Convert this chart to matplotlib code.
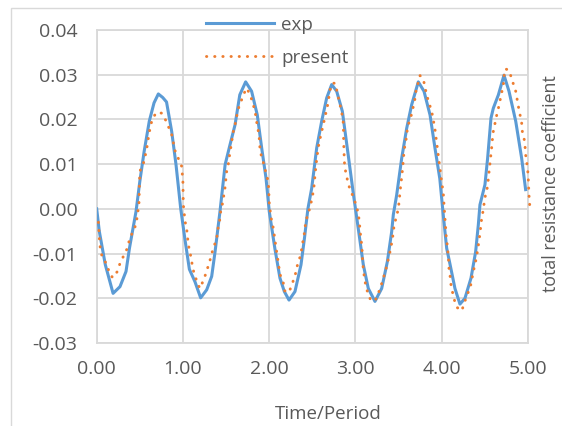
import matplotlib
matplotlib.use("Agg")
import matplotlib.pyplot as plt
from matplotlib.patches import Rectangle

plt.rcParams['font.family'] = ['Open Sans', 'DejaVu Sans']

# ---- data ----
exp_t = [0.0, 0.03, 0.10, 0.19, 0.27, 0.34, 0.38, 0.456, 0.50, 0.55, 0.61, 0.665, 0.715, 0.766, 0.81, 0.87,
         0.92, 0.975, 1.025, 1.075, 1.14, 1.206, 1.276, 1.334, 1.373, 1.43, 1.49, 1.546, 1.605, 1.66, 1.728,
         1.797, 1.863, 1.914, 1.964, 2.002, 2.068, 2.126, 2.177, 2.231, 2.30, 2.37, 2.41, 2.45, 2.494, 2.552,
         2.61, 2.668, 2.726, 2.784, 2.85, 2.92, 2.98, 3.035, 3.093, 3.151, 3.228, 3.306, 3.372, 3.422, 3.441,
         3.48, 3.538, 3.596, 3.654, 3.731, 3.797, 3.867, 3.925, 3.98, 4.02, 4.06, 4.10, 4.156, 4.214, 4.272,
         4.342, 4.396, 4.427, 4.446, 4.504, 4.535, 4.574, 4.601, 4.66, 4.725, 4.783, 4.861, 4.93, 4.976]
exp_v = [0.000, -0.005, -0.0125, -0.0189, -0.0174, -0.014, -0.0088, -0.0006, 0.0061, 0.0128, 0.0196, 0.0237,
         0.0257, 0.0249, 0.0239, 0.0173, 0.0099, 0.0, -0.007, -0.0135, -0.0163, -0.0199, -0.0181, -0.0151,
         -0.0096, -0.0006, 0.0099, 0.0143, 0.0188, 0.0255, 0.0284, 0.0263, 0.021, 0.0136, 0.0069, -0.0006,
         -0.009, -0.0155, -0.0185, -0.0204, -0.0185, -0.0125, -0.0066, 0.0, 0.0046, 0.0136, 0.0196, 0.0248,
         0.0278, 0.0263, 0.0218, 0.0117, 0.003, -0.0045, -0.0125, -0.0178, -0.0207, -0.0178, -0.0118, -0.0051,
         -0.0013, 0.0031, 0.0113, 0.018, 0.0233, 0.0284, 0.0263, 0.021, 0.0135, 0.0068, -0.0013, -0.0088,
         -0.0125, -0.0178, -0.0213, -0.020, -0.0155, -0.0096, -0.0036, 0.0009, 0.0054, 0.0113, 0.0203, 0.0225,
         0.0255, 0.0299, 0.0263, 0.0196, 0.0113, 0.0043]

present_t = [0.02, 0.035, 0.06, 0.124, 0.147, 0.186, 0.24, 0.27, 0.31, 0.348, 0.375, 0.406, 0.445, 0.464, 0.49,
             0.50, 0.54, 0.56, 0.58, 0.607, 0.626, 0.65, 0.696, 0.754, 0.804, 0.84, 0.87, 0.909, 0.947, 0.986,
             1.0, 1.005, 1.025, 1.044, 1.063, 1.10, 1.113, 1.14, 1.167, 1.198, 1.237, 1.268, 1.322, 1.346, 1.373,
             1.40, 1.41, 1.43, 1.44, 1.461, 1.489, 1.508, 1.527, 1.539, 1.555, 1.585, 1.605, 1.624, 1.643, 1.674,
             1.701, 1.74, 1.78, 1.81, 1.837, 1.864, 1.883, 1.895, 1.914, 1.941, 1.964, 1.991, 2.003, 2.03, 2.049,
             2.068, 2.095, 2.115, 2.126, 2.165, 2.177, 2.231, 2.262, 2.30, 2.32, 2.347, 2.37, 2.386, 2.416, 2.424,
             2.447, 2.474, 2.494, 2.513, 2.525, 2.532, 2.552, 2.564, 2.579, 2.602, 2.618, 2.641, 2.66, 2.68, 2.695,
             2.707, 2.734, 2.765, 2.784, 2.803, 2.823, 2.842, 2.861, 2.865, 2.873, 2.88, 2.90, 2.92, 2.95, 2.985,
             3.016, 3.035, 3.047, 3.054, 3.074, 3.081, 3.085, 3.093, 3.105, 3.12, 3.143, 3.178, 3.228, 3.267,
             3.298, 3.325, 3.352, 3.375, 3.395, 3.414, 3.43, 3.441, 3.453, 3.48, 3.499, 3.511, 3.518, 3.53, 3.538,
             3.55, 3.557, 3.565, 3.576, 3.596, 3.603, 3.627, 3.654, 3.673, 3.692, 3.704, 3.724, 3.751, 3.79,
             3.828, 3.855, 3.886, 3.905, 3.925, 3.936, 3.952, 3.965, 3.983, 4.002, 4.021, 4.03, 4.045, 4.055,
             4.066, 4.079, 4.087, 4.10, 4.11, 4.126, 4.145, 4.164, 4.184, 4.234, 4.265, 4.292, 4.331, 4.35, 4.37,
             4.388, 4.408, 4.42, 4.435, 4.446, 4.458, 4.466, 4.485, 4.497, 4.512, 4.535, 4.543, 4.563, 4.574,
             4.582, 4.59, 4.601, 4.621, 4.64, 4.66, 4.679, 4.698, 4.718, 4.725, 4.737, 4.776, 4.807, 4.834, 4.861,
             4.892, 4.911, 4.93, 4.938, 4.961, 4.969, 4.976, 4.988, 5.0, 5.007, 5.015, 5.027]
present_v = [-0.003, -0.008, -0.0105, -0.0127, -0.0144, -0.0154, -0.014, -0.0122, -0.0106, -0.0091, -0.0073,
             -0.0057, -0.004, -0.0025, 0.001, 0.0084, 0.010, 0.0116, 0.0134, 0.0168, 0.0187, 0.0203, 0.0216,
             0.0214, 0.0197, 0.018, 0.0166, 0.013, 0.0113, 0.0095, 0.0061, 0.0009, -0.0028, -0.0045, -0.008,
             -0.0114, -0.0133, -0.0149, -0.0166, -0.0178, -0.016, -0.0144, -0.011, -0.0092, -0.0077, -0.0058,
             -0.004, -0.0022, -0.0002, 0.0013, 0.0048, 0.0084, 0.010, 0.0117, 0.0136, 0.0173, 0.0188, 0.0207,
             0.0224, 0.024, 0.0255, 0.027, 0.0255, 0.0237, 0.0218, 0.0184, 0.0166, 0.0132, 0.0115, 0.0099, 0.008,
             0.0061, 0.0009, -0.0028, -0.0043, -0.007, -0.0105, -0.013, -0.0146, -0.0166, -0.0183, -0.0187,
             -0.017, -0.0151, -0.0131, -0.0116, -0.0099, -0.008, -0.0047, -0.0028, -0.0015, 0.0003, 0.002, 0.0039,
             0.0057, 0.0075, 0.011, 0.0128, 0.0147, 0.0166, 0.018, 0.0199, 0.0216, 0.0233, 0.0251, 0.0266,
             0.0281, 0.0281, 0.0266, 0.0249, 0.0233, 0.0216, 0.0192, 0.015, 0.0106, 0.0091, 0.0072, 0.0054,
             0.0039, 0.0022, 0.0005, -0.0012, -0.0028, -0.0047, -0.008, -0.0099, -0.0118, -0.0135, -0.0153,
             -0.017, -0.0187, -0.0204, -0.0206, -0.0189, -0.0172, -0.0155, -0.0138, -0.0119, -0.0103, -0.0084,
             -0.0069, -0.0051, -0.0034, -0.0016, 0.0001, 0.002, 0.0039, 0.0055, 0.0072, 0.0091, 0.011, 0.0127,
             0.0143, 0.0162, 0.0179, 0.0196, 0.0212, 0.0229, 0.0246, 0.0263, 0.0278, 0.0298, 0.0289, 0.0255,
             0.0237, 0.0218, 0.0199, 0.0177, 0.016, 0.0135, 0.0115, 0.0088, 0.006, 0.0035, 0.0007, -0.0035,
             -0.0062, -0.008, -0.0105, -0.0133, -0.0151, -0.017, -0.0185, -0.020, -0.0215, -0.0221, -0.0228,
             -0.0211, -0.0194, -0.0178, -0.0159, -0.014, -0.0124, -0.0107, -0.009, -0.0073, -0.0054, -0.0036,
             -0.0021, -0.0002, 0.0016, 0.0033, 0.005, 0.0067, 0.0102, 0.0121, 0.0137, 0.0154, 0.0173, 0.0192,
             0.0209, 0.0225, 0.0242, 0.0259, 0.0278, 0.0296, 0.0313, 0.0311, 0.0296, 0.0279, 0.0263, 0.0229,
             0.021, 0.0192, 0.0173, 0.0154, 0.014, 0.0121, 0.0106, 0.0087, 0.0065, 0.0031, -0.0002]

x_ticks = [0, 1, 2, 3, 4, 5]
y_ticks = [-0.03, -0.02, -0.01, 0.0, 0.01, 0.02, 0.03, 0.04]

BLUE = '#5B9BD5'
ORANGE = '#ED7D31'
GRID = '#D9D9D9'
TXT = '#595959'

W, H = 562, 426
fig = plt.figure(figsize=(W / 100, H / 100), dpi=100)
ax = fig.add_axes([96.7 / W, 1 - 343 / H, (527.7 - 96.7) / W, (343 - 30) / H])

# outer chart border
fig.patches.append(Rectangle((11 / W, -0.1), 1.2, 1 - 8 / H + 0.1, transform=fig.transFigure,
                             fill=False, edgecolor=GRID, linewidth=1.0))

ax.plot(exp_t, exp_v, color=BLUE, lw=2.2, label='exp', zorder=3)
ax.plot(present_t, present_v, color=ORANGE, lw=2.1, linestyle=(0, (0.1, 2.7)),
        dash_capstyle='round', label='present', zorder=4, clip_on=False)

ax.set_xlim(0, 5)
ax.set_ylim(-0.03, 0.04)
ax.set_xticks(x_ticks)
ax.set_yticks(y_ticks)
ax.set_xticklabels([f'{v:.2f}' for v in x_ticks])
ax.set_yticklabels([f'{v:.2f}' for v in y_ticks])
ax.grid(True, color=GRID, linewidth=1.3)
ax.set_axisbelow(True)
for s in ax.spines.values():
    s.set_color(GRID)
    s.set_linewidth(1.3)
ax.tick_params(axis='y', length=0, labelsize=14, colors=TXT, pad=14)
ax.tick_params(axis='x', length=0, labelsize=14, colors=TXT, pad=12)

fig.text(328 / W, 1 - 414 / H, 'Time/Period', ha='center', va='center', fontsize=13.5, color=TXT)
fig.text(551 / W, 1 - 184 / H, 'total resistance coefficient', ha='center', va='center',
         rotation=90, fontsize=12.8, color=TXT)

leg = fig.legend(loc='upper left', bbox_to_anchor=(206 / W, 1 - 16 / H), frameon=False,
                 fontsize=13.5, labelcolor=TXT, handlelength=3.6, handletextpad=0.4,
                 labelspacing=0.78, borderpad=0, borderaxespad=0)

fig.savefig('out.png', dpi=100)
